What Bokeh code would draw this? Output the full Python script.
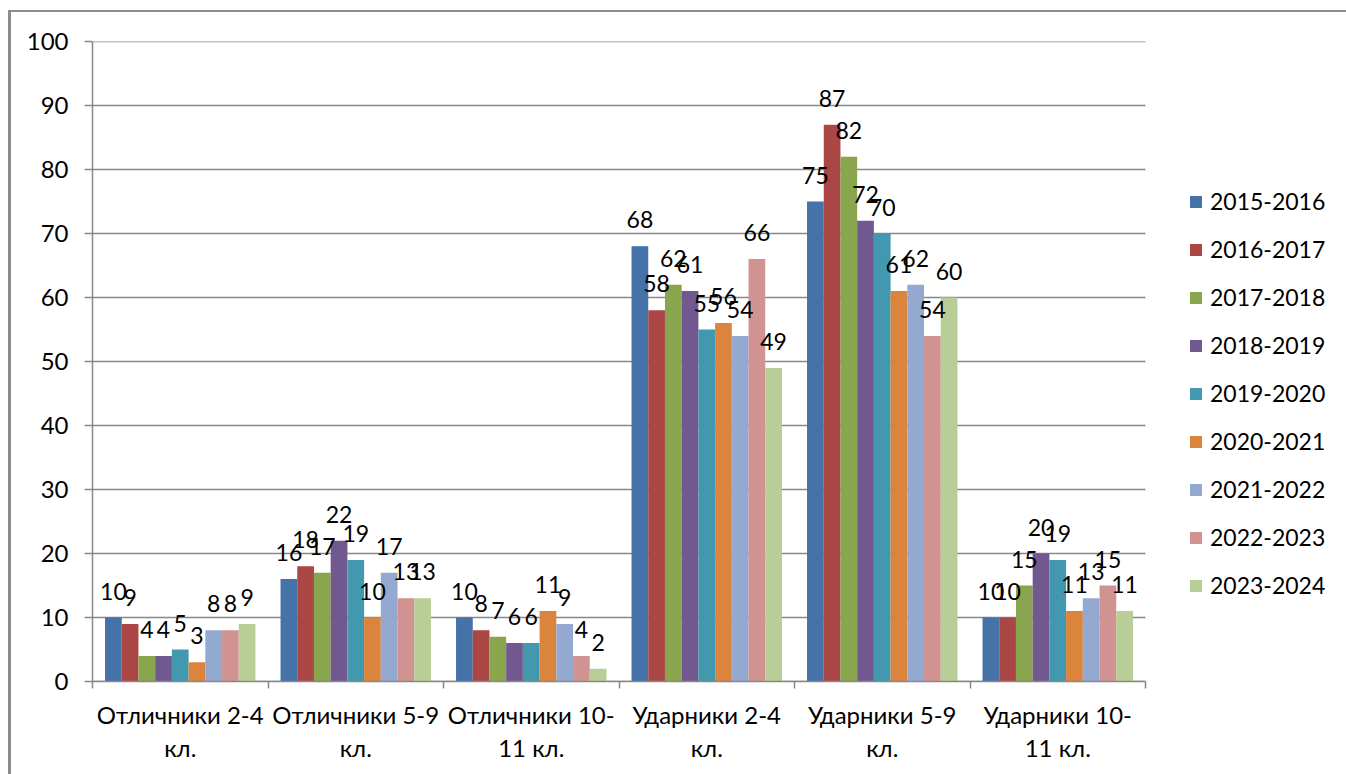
from bokeh.plotting import figure
from bokeh.layouts import column
from bokeh.models import (ColumnDataSource, Range1d, FixedTicker, LabelSet, Legend,
                          LegendItem)
from bokeh.transform import dodge
from bokeh.core.properties import value
from bokeh.embed import file_html
from bokeh.resources import INLINE

categories = ["Отличники 2-4 кл.", "Отличники 5-9 кл.", "Отличники 10-11 кл.",
              "Ударники 2-4 кл.", "Ударники 5-9 кл.", "Ударники 10-11 кл."]
tick_labels = ["Отличники 2-4\nкл.", "Отличники 5-9\nкл.", "Отличники 10-\n11 кл.",
               "Ударники 2-4\nкл.", "Ударники 5-9\nкл.", "Ударники 10-\n11 кл."]
years = ["2015-2016", "2016-2017", "2017-2018", "2018-2019", "2019-2020",
         "2020-2021", "2021-2022", "2022-2023", "2023-2024"]
y_ticks = [0, 10, 20, 30, 40, 50, 60, 70, 80, 90, 100]

y2015_2016 = [10, 16, 10, 68, 75, 10]
y2016_2017 = [9, 18, 8, 58, 87, 10]
y2017_2018 = [4, 17, 7, 62, 82, 15]
y2018_2019 = [4, 22, 6, 61, 72, 20]
y2019_2020 = [5, 19, 6, 55, 70, 19]
y2020_2021 = [3, 10, 11, 56, 61, 11]
y2021_2022 = [8, 17, 9, 54, 62, 13]
y2022_2023 = [8, 13, 4, 66, 54, 15]
y2023_2024 = [9, 13, 2, 49, 60, 11]
series = [y2015_2016, y2016_2017, y2017_2018, y2018_2019, y2019_2020,
          y2020_2021, y2021_2022, y2022_2023, y2023_2024]

colors = ["#4572A7", "#AA4643", "#89A54E", "#71588F", "#4198AF",
          "#DB843D", "#93A9CF", "#D19392", "#B9CD96"]

FONT = "Lato"
GRAY = "#888888"

# canvas starts at page (11, 12) inside the bordered wrapper
OX, OY = 11, 12
W, H = 1346 - OX, 774 - OY
FL, FT, FB = 92 - OX, 41 - OY, 681 - OY       # frame left / top / bottom in canvas px
ncat = len(categories)
px_per_cat = (1145 - 92) / ncat
x_end = (W - FL) / px_per_cat                  # frame runs to the right edge (legend lives there)

p = figure(width=W, height=H, x_range=Range1d(0, x_end), y_range=Range1d(0, 100),
           output_backend="svg", toolbar_location=None,
           min_border_left=FL, min_border_top=FT, min_border_right=0,
           min_border_bottom=H - FB)
p.outline_line_color = None
p.background_fill_color = "white"
p.border_fill_color = "white"

p.xgrid.visible = False
p.ygrid.visible = False
# horizontal gridlines spanning only the category area
p.segment(x0=[0] * len(y_ticks), x1=[ncat] * len(y_ticks), y0=y_ticks, y1=y_ticks,
          line_color=GRAY, line_width=1.5)

yax = p.yaxis[0]
yax.ticker = FixedTicker(ticks=y_ticks, minor_ticks=[])
yax.axis_line_color = GRAY
yax.axis_line_width = 1.5
yax.major_tick_line_color = GRAY
yax.major_tick_line_width = 1.5
yax.major_tick_out = 8
yax.major_tick_in = 0
yax.minor_tick_line_color = None
yax.major_label_standoff = 16
yax.major_label_text_font = FONT
yax.major_label_text_font_size = "24px"
yax.major_label_text_color = "black"

xax = p.xaxis[0]
centers = [i + 0.5 for i in range(ncat)]
xax.bounds = (0, ncat)
xax.ticker = FixedTicker(ticks=centers, minor_ticks=list(range(ncat + 1)))
xax.major_label_overrides = {c: t for c, t in zip(centers, tick_labels)}
xax.axis_line_color = GRAY
xax.axis_line_width = 1.5
xax.major_tick_line_color = None
xax.major_tick_out = 0
xax.major_tick_in = 0
xax.minor_tick_line_color = GRAY
xax.minor_tick_line_width = 1.5
xax.minor_tick_out = 7
xax.minor_tick_in = 0
xax.major_label_standoff = 11
xax.major_label_text_font = FONT
xax.major_label_text_font_size = "24px"
xax.major_label_text_color = "black"
xax.major_label_text_line_height = 1.15

w = 1 / 10.5
items = []
for j, (yr, vals, col) in enumerate(zip(years, series, colors)):
    src = ColumnDataSource(dict(x=centers, top=vals, lab=[str(v) for v in vals]))
    off = (j - 4) * w
    r = p.vbar(x=dodge("x", off, range=p.x_range), top="top", bottom=0, width=w, source=src,
               fill_color=col, line_color=None)
    items.append(LegendItem(label=yr, renderers=[r]))
    labels = LabelSet(x=dodge("x", off, range=p.x_range), y="top", text="lab", source=src,
                      text_align="center", text_baseline="alphabetic", y_offset=18,
                      text_font=value(FONT), text_font_size="23px", text_color="black")
    p.add_layout(labels)

legend = Legend(items=items, location=(1188 - 92, 681 - 599), glyph_width=15, glyph_height=15,
                label_standoff=7, spacing=20, label_text_font=FONT,
                label_text_font_size="23px", label_text_color="black",
                border_line_color=None, background_fill_alpha=0, padding=0, margin=0)
p.add_layout(legend, "center")

page = column(p, styles={"border-top": "2px solid #8c8c8c", "border-left": "3px solid #8c8c8c",
                         "margin-left": "8px", "margin-top": "10px"})

open("out.html", "w").write(file_html(page, INLINE))
